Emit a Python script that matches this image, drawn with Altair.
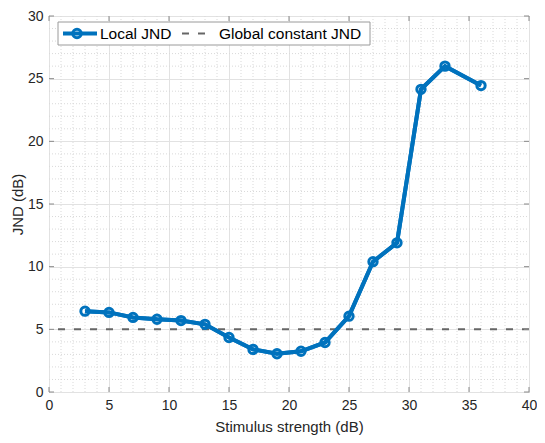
import altair as alt
import pandas as pd

# ---- data ----
stimulus = [3, 5, 7, 9, 11, 13, 15, 17, 19, 21, 23, 25, 27, 29, 31, 33, 36]
local_jnd = [6.45, 6.35, 5.95, 5.8, 5.7, 5.4, 4.35, 3.4, 3.05, 3.25, 3.95,
             6.05, 10.4, 11.9, 24.15, 26.0, 24.45]
global_jnd = [5]
x_major = [0, 5, 10, 15, 20, 25, 30, 35, 40]
y_major = [0, 5, 10, 15, 20, 25, 30]
x_minor = [v for v in range(0, 41) if v % 5 != 0]
y_minor = [v for v in range(0, 31) if v % 5 != 0]

W, H = 480, 376
BLUE = "#0072BD"
GRAY = "#666666"
TXT = "#262626"
AX = "#8a8a8a"
FONT = "Liberation Sans"

df = pd.DataFrame({"x": stimulus, "y": local_jnd})
xs = alt.Scale(domain=[0, 40], nice=False, zero=False)
ys = alt.Scale(domain=[0, 30], nice=False, zero=False)

xaxis = alt.Axis(values=x_major, grid=True, gridColor="#e2e2e2", domain=False,
                 ticks=False, labelFontSize=14, labelColor=TXT, labelFont=FONT,
                 labelPadding=6, title="Stimulus strength (dB)", titleFontSize=15,
                 titleFont=FONT, titleColor=TXT, titleFontWeight="normal",
                 titleX=W / 2, titleY=34, titleBaseline="middle", titleAlign="center",
                 labelFlush=False)
yaxis = alt.Axis(values=y_major, grid=True, gridColor="#e2e2e2", domain=False,
                 ticks=False, labelFontSize=14, labelColor=TXT, labelFont=FONT,
                 labelPadding=6, title="JND (dB)", titleFontSize=15, titleFont=FONT,
                 titleColor=TXT, titleFontWeight="normal",
                 titleX=-32, titleY=H / 2, titleBaseline="middle", titleAlign="center",
                 titleAngle=270)

base = alt.Chart(df)

line = base.mark_line(color=BLUE, strokeWidth=4).encode(
    x=alt.X("x:Q", scale=xs, axis=xaxis),
    y=alt.Y("y:Q", scale=ys, axis=yaxis),
)
pts = base.mark_point(color=BLUE, filled=False, strokeWidth=3, size=70, opacity=1).encode(
    x=alt.X("x:Q", scale=xs), y=alt.Y("y:Q", scale=ys))

gdf = pd.DataFrame({"y": global_jnd})
glob = alt.Chart(gdf).mark_rule(color=GRAY, strokeWidth=2, strokeDash=[7, 9]).encode(
    y=alt.Y("y:Q", scale=ys))

xmin_df = pd.DataFrame({"v": x_minor})
ymin_df = pd.DataFrame({"v": y_minor})
minor_x = alt.Chart(xmin_df).mark_rule(color="#d9d9d9", strokeWidth=1, strokeDash=[1, 2]).encode(
    x=alt.X("v:Q", scale=xs), y=alt.value(0), y2=alt.value(H))
minor_y = alt.Chart(ymin_df).mark_rule(color="#d9d9d9", strokeWidth=1, strokeDash=[1, 2]).encode(
    y=alt.Y("v:Q", scale=ys), x=alt.value(0), x2=alt.value(W))

xt_df = pd.DataFrame({"v": x_major})
yt_df = pd.DataFrame({"v": y_major})
tk = 5
tick_b = alt.Chart(xt_df).mark_rule(color=AX, strokeWidth=1).encode(
    x=alt.X("v:Q", scale=xs), y=alt.value(H), y2=alt.value(H - tk))
tick_t = alt.Chart(xt_df).mark_rule(color=AX, strokeWidth=1).encode(
    x=alt.X("v:Q", scale=xs), y=alt.value(0), y2=alt.value(tk))
tick_l = alt.Chart(yt_df).mark_rule(color=AX, strokeWidth=1).encode(
    y=alt.Y("v:Q", scale=ys), x=alt.value(0), x2=alt.value(tk))
tick_r = alt.Chart(yt_df).mark_rule(color=AX, strokeWidth=1).encode(
    y=alt.Y("v:Q", scale=ys), x=alt.value(W), x2=alt.value(W - tk))

# ---- legend ----
one = alt.Data(values=[{"a": 1}])
ly = 17.5
leg_box = alt.Chart(one).mark_rect(fill="white", stroke="#9a9a9a", strokeWidth=1).encode(
    x=alt.value(9), x2=alt.value(321), y=alt.value(6), y2=alt.value(29))
leg_l1 = alt.Chart(one).mark_rule(color=BLUE, strokeWidth=4).encode(
    x=alt.value(14), x2=alt.value(48), y=alt.value(ly))
leg_p1 = alt.Chart(one).mark_point(color=BLUE, filled=False, strokeWidth=3, size=70, opacity=1).encode(
    x=alt.value(28), y=alt.value(ly))
leg_t1 = alt.Chart(one).mark_text(text="Local JND", align="left", baseline="middle",
                                  fontSize=15.5, font=FONT, color="black").encode(
    x=alt.value(51), y=alt.value(ly + 0.5))
leg_l2 = alt.Chart(one).mark_rule(color=GRAY, strokeWidth=2, strokeDash=[7, 9]).encode(
    x=alt.value(133), x2=alt.value(160), y=alt.value(ly))
leg_t2 = alt.Chart(one).mark_text(text="Global constant JND", align="left", baseline="middle",
                                  fontSize=15.5, font=FONT, color="black").encode(
    x=alt.value(170), y=alt.value(ly + 0.5))

chart = alt.layer(
    minor_x, minor_y, line, glob, line, pts,
    leg_box, leg_l1, leg_p1, leg_t1, leg_l2, leg_t2,
    tick_b, tick_t, tick_l, tick_r,
).properties(
    width=W, height=H,
    autosize=alt.AutoSizeParams(type="none"),
    padding={"left": 41, "top": 8, "right": 8, "bottom": 43},
    background="white",
).configure_view(stroke=AX, strokeWidth=1)

chart.save("out.html", embed_options={"renderer": "svg", "actions": False})
